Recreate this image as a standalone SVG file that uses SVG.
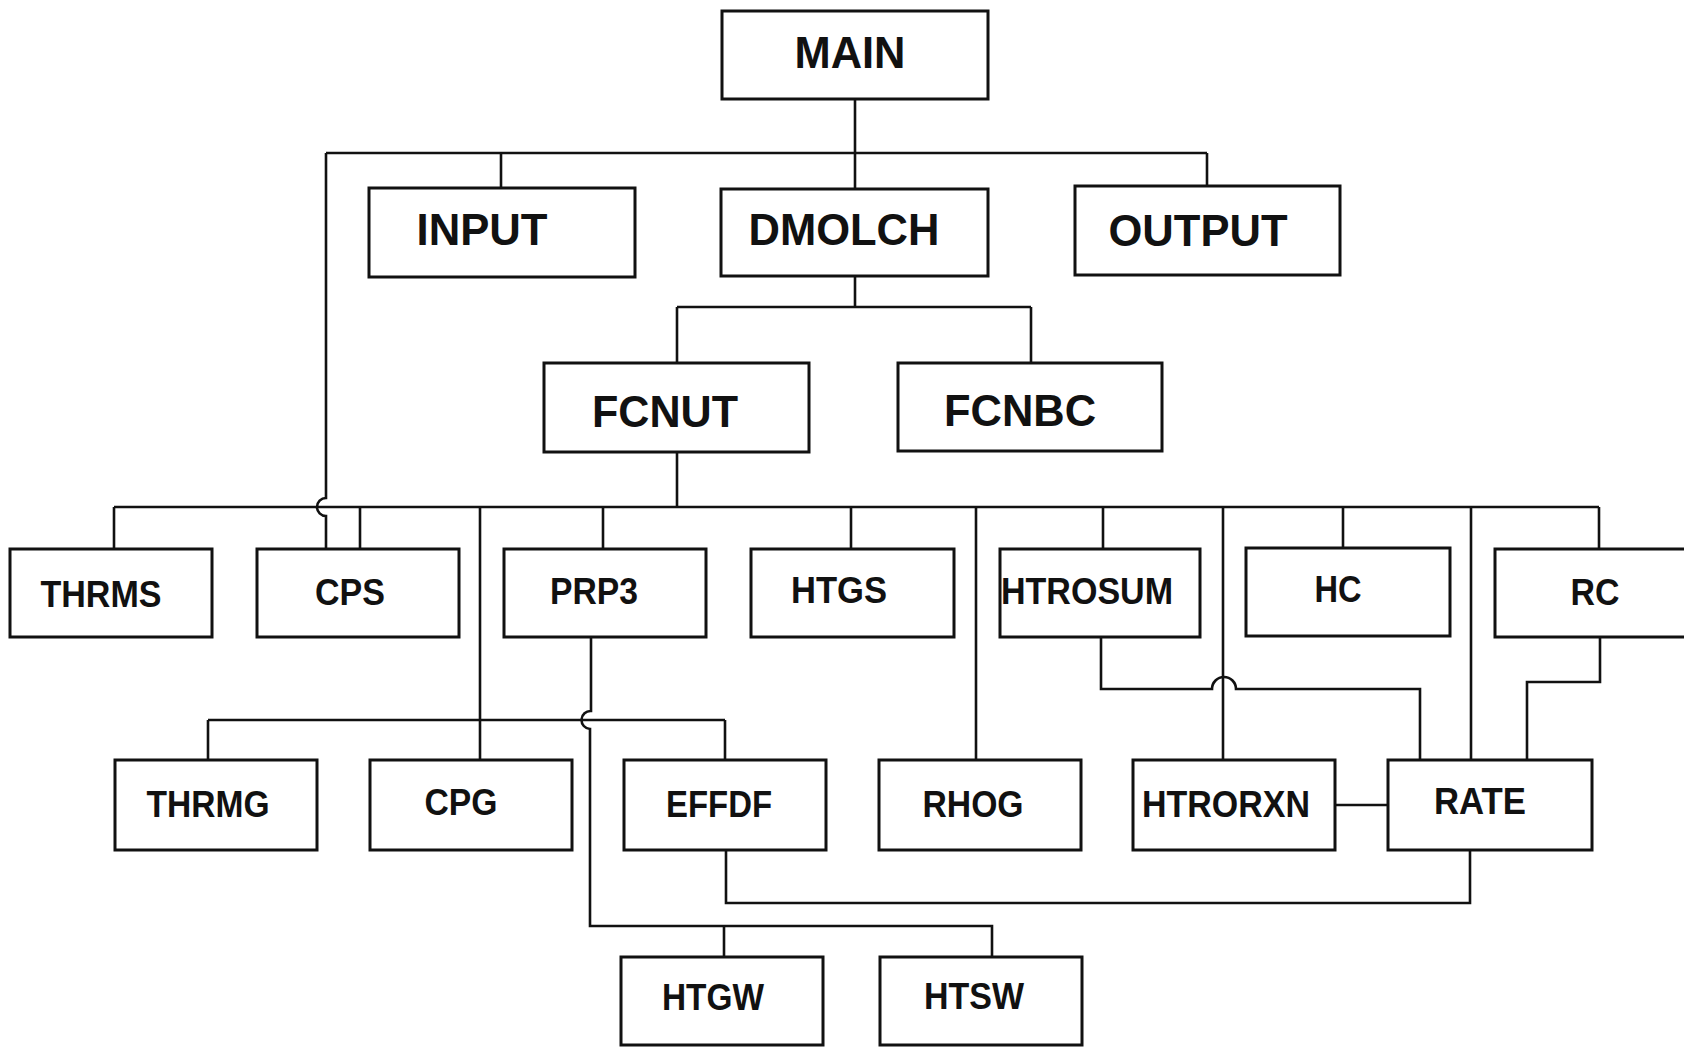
<svg xmlns="http://www.w3.org/2000/svg" width="1684" height="1047" viewBox="0 0 1684 1047">
<style>
.box{fill:#fff;stroke:#111;stroke-width:3}
.big{font-family:"Liberation Sans",Arial,sans-serif;font-weight:bold;font-size:44px;fill:#111;text-anchor:middle}
.sm{font-family:"Liberation Sans",Arial,sans-serif;font-weight:bold;font-size:36px;fill:#111;text-anchor:middle}
.ln{fill:none;stroke:#111;stroke-width:2.6}
</style>
<rect width="1684" height="1047" fill="#fff"/>
<g id="connectors" class="ln">
<path d="M855,99 V189"/>
<path d="M326,153 H1207"/>
<path d="M501,153 V188"/>
<path d="M1207,153 V186"/>
<path d="M326,153 V498 A9,9 0 0 0 326,516 V549"/>
<path d="M855,276 V307"/>
<path d="M677,307 H1031"/>
<path d="M677,307 V363"/>
<path d="M1031,307 V363"/>
<path d="M677,452 V507"/>
<path d="M114,507 H1599"/>
<path d="M114,507 V549"/>
<path d="M360,507 V549"/>
<path d="M480,507 V760"/>
<path d="M603,507 V549"/>
<path d="M851,507 V549"/>
<path d="M976,507 V760"/>
<path d="M1103,507 V549"/>
<path d="M1223,507 V760"/>
<path d="M1343,507 V548"/>
<path d="M1471,507 V760"/>
<path d="M1599,507 V549"/>
<path d="M208,720 H725"/>
<path d="M208,720 V760"/>
<path d="M725,720 V760"/>
<path d="M591,637 V711 A9,9 0 0 0 590,729 V926 H992 V957"/>
<path d="M724,926 V957"/>
<path d="M1101,637 V689 H1212 A12,12 0 0 1 1236,689 H1420 V760"/>
<path d="M1600,637 V682 H1527 V760"/>
<path d="M726,850 V903 H1470 V850"/>
<path d="M1335,805 H1388"/>
</g>
<g id="MAIN"><rect class="box" x="722" y="11" width="266" height="88"/><text class="big" x="850" y="68" textLength="111" lengthAdjust="spacingAndGlyphs">MAIN</text></g>
<g id="INPUT"><rect class="box" x="369" y="188" width="266" height="89"/><text class="big" x="482" y="245" textLength="131" lengthAdjust="spacingAndGlyphs">INPUT</text></g>
<g id="DMOLCH"><rect class="box" x="721" y="189" width="267" height="87"/><text class="big" x="844" y="245" textLength="191" lengthAdjust="spacingAndGlyphs">DMOLCH</text></g>
<g id="OUTPUT"><rect class="box" x="1075" y="186" width="265" height="89"/><text class="big" x="1198" y="246" textLength="179" lengthAdjust="spacingAndGlyphs">OUTPUT</text></g>
<g id="FCNUT"><rect class="box" x="544" y="363" width="265" height="89"/><text class="big" x="665" y="427" textLength="146" lengthAdjust="spacingAndGlyphs">FCNUT</text></g>
<g id="FCNBC"><rect class="box" x="898" y="363" width="264" height="88"/><text class="big" x="1020" y="426" textLength="152" lengthAdjust="spacingAndGlyphs">FCNBC</text></g>
<g id="THRMS"><rect class="box" x="10" y="549" width="202" height="88"/><text class="sm" x="101" y="607" textLength="121" lengthAdjust="spacingAndGlyphs">THRMS</text></g>
<g id="CPS"><rect class="box" x="257" y="549" width="202" height="88"/><text class="sm" x="350" y="605" textLength="70" lengthAdjust="spacingAndGlyphs">CPS</text></g>
<g id="PRP3"><rect class="box" x="504" y="549" width="202" height="88"/><text class="sm" x="594" y="604" textLength="88" lengthAdjust="spacingAndGlyphs">PRP3</text></g>
<g id="HTGS"><rect class="box" x="751" y="549" width="203" height="88"/><text class="sm" x="839" y="603" textLength="96" lengthAdjust="spacingAndGlyphs">HTGS</text></g>
<g id="HTROSUM"><rect class="box" x="1000" y="549" width="200" height="88"/><text class="sm" x="1087" y="604" textLength="172" lengthAdjust="spacingAndGlyphs">HTROSUM</text></g>
<g id="HC"><rect class="box" x="1246" y="548" width="204" height="88"/><text class="sm" x="1338" y="602" textLength="47" lengthAdjust="spacingAndGlyphs">HC</text></g>
<g id="RC"><rect class="box" x="1495" y="549" width="210" height="88"/><text class="sm" x="1595" y="605" textLength="49" lengthAdjust="spacingAndGlyphs">RC</text></g>
<g id="THRMG"><rect class="box" x="115" y="760" width="202" height="90"/><text class="sm" x="208" y="817" textLength="123" lengthAdjust="spacingAndGlyphs">THRMG</text></g>
<g id="CPG"><rect class="box" x="370" y="760" width="202" height="90"/><text class="sm" x="461" y="815" textLength="73" lengthAdjust="spacingAndGlyphs">CPG</text></g>
<g id="EFFDF"><rect class="box" x="624" y="760" width="202" height="90"/><text class="sm" x="719" y="817" textLength="106" lengthAdjust="spacingAndGlyphs">EFFDF</text></g>
<g id="RHOG"><rect class="box" x="879" y="760" width="202" height="90"/><text class="sm" x="973" y="817" textLength="101" lengthAdjust="spacingAndGlyphs">RHOG</text></g>
<g id="HTRORXN"><rect class="box" x="1133" y="760" width="202" height="90"/><text class="sm" x="1226" y="817" textLength="168" lengthAdjust="spacingAndGlyphs">HTRORXN</text></g>
<g id="RATE"><rect class="box" x="1388" y="760" width="204" height="90"/><text class="sm" x="1480" y="814" textLength="92" lengthAdjust="spacingAndGlyphs">RATE</text></g>
<g id="HTGW"><rect class="box" x="621" y="957" width="202" height="88"/><text class="sm" x="713" y="1010" textLength="102" lengthAdjust="spacingAndGlyphs">HTGW</text></g>
<g id="HTSW"><rect class="box" x="880" y="957" width="202" height="88"/><text class="sm" x="974" y="1009" textLength="100" lengthAdjust="spacingAndGlyphs">HTSW</text></g>
</svg>
